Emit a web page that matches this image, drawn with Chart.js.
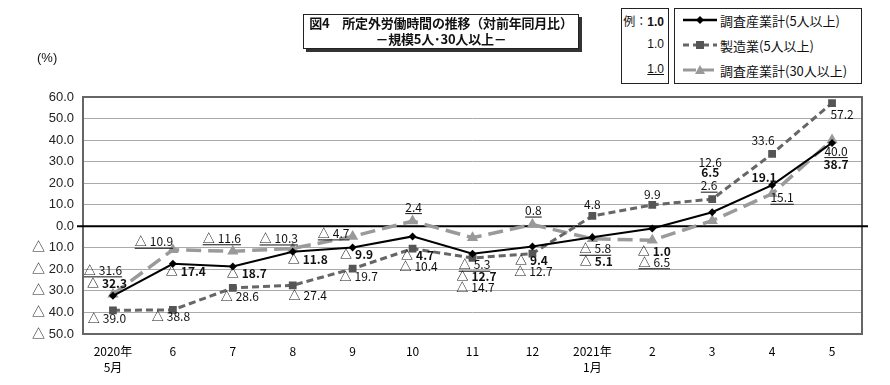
<!DOCTYPE html>
<html>
<head>
<meta charset="utf-8">
<script src="https://cdn.jsdelivr.net/npm/chart.js@4.4.1/dist/chart.umd.min.js"></script>
<style>
  body { margin: 0; background: #fff; }
  #wrap { position: relative; width: 890px; height: 385px; font-family: "Liberation Sans", "Noto Sans CJK JP", sans-serif; color: #111; }
  #c { position: absolute; left: 0; top: 0; }
  .box { position: absolute; border: 1px solid #222; background: #fff; }
  #title { left: 303px; top: 14px; width: 274px; height: 33px; box-shadow: 3px 3px 0 #333; text-align: center;
           font: bold 13px "Noto Sans CJK JP", sans-serif; line-height: 16px; white-space: nowrap; letter-spacing: -0.2px; }
  #pct { position: absolute; left: 37px; top: 50px; font-size: 13px; }
  #ex { left: 621px; top: 8px; width: 46px; height: 74px; font-size: 12px; }
  #ex div { position: absolute; right: 4px; }
  #legend { left: 674px; top: 8px; width: 186px; height: 74px; font: 13px "Noto Sans CJK JP", sans-serif; }
  #legend .row { position: absolute; left: 8px; height: 20px; display: flex; align-items: center; }
  #legend svg { margin-right: 3px; }
</style>
</head>
<body>
<div id="wrap">
  <canvas id="c" width="890" height="385"></canvas>
  <div id="title" class="box">図4　所定外労働時間の推移（対前年同月比）<br>－規模5人･30人以上－</div>
  <div id="pct">(%)</div>
  <div id="ex" class="box">
    <div style="top:3px">例：<b>1.0</b></div>
    <div style="top:28px">1.0</div>
    <div style="top:53px;text-decoration:underline">1.0</div>
  </div>
  <div id="legend" class="box">
    <div class="row" style="top:1px">
      <svg width="34" height="12"><line x1="0" y1="6" x2="34" y2="6" stroke="#000" stroke-width="2.5"/><polygon points="17,2 21,6 17,10 13,6" fill="#000"/></svg>調査産業計(5人以上)
    </div>
    <div class="row" style="top:26px">
      <svg width="34" height="12"><line x1="0" y1="6" x2="34" y2="6" stroke="#666" stroke-width="3" stroke-dasharray="6,4"/><rect x="13" y="2" width="8" height="8" fill="#555"/></svg>製造業(5人以上)
    </div>
    <div class="row" style="top:51px">
      <svg width="34" height="12"><line x1="0" y1="6" x2="34" y2="6" stroke="#999" stroke-width="3" stroke-dasharray="13,5"/><polygon points="17,1 22,10 12,10" fill="#999"/></svg>調査産業計(30人以上)
    </div>
  </div>
</div>
<script>
// 所定外労働時間 対前年同月比 (%)
const months = [['2020年', '5月'], '6', '7', '8', '9', '10', '11', '12', ['2021年', '1月'], '2', '3', '4', '5'];
const total5 = [-32.3, -17.4, -18.7, -11.8, -9.9, -4.7, -12.7, -9.4, -5.1, -1.0, 6.5, 19.1, 38.7];
const manuf5 = [-39.0, -38.8, -28.6, -27.4, -19.7, -10.4, -14.7, -12.7, 4.8, 9.9, 12.6, 33.6, 57.2];
const total30 = [-31.6, -10.9, -11.6, -10.3, -4.7, 2.4, -5.3, 0.8, -5.8, -6.5, 2.6, 15.1, 40.0];
const seriesNames = ['調査産業計(5人以上)', '製造業(5人以上)', '調査産業計(30人以上)'];

// where each value label sits relative to its point (px)
const labelOffsets = [
  [[-6, -12], [13, 8], [14, 7], [15, 8], [4, 7], [5, 19], [4, 23], [-1, 14], [4, 24], [2, 23], [-2, -40], [-8, -8], [4, 22]],
  [[-6, 8], [-2, 7], [7, 9], [15, 10], [6, 8], [6, 18], [3, 29], [1, 18], [0, -11], [0, -11], [-2, -37], [-9, -13], [10, 11]],
  [[-10, -24], [-19, -8], [-11, -13], [-14, -10], [-19, -3], [1, -14], [2, 27], [1, -14], [3, 10], [2, 22], [-3, -35], [10, 4], [4, 11]]
];
const narrow = '"Liberation Sans Narrow", "Noto Sans CJK JP", sans-serif';
const labelStyles = [
  { weight: 'bold', underline: false },
  { weight: 'normal', underline: false },
  { weight: 'normal', underline: true }
];

function fmt(v) {
  return v < 0 ? '△ ' + Math.abs(v).toFixed(1) : v.toFixed(1);
}

const frame = {
  id: 'frame',
  beforeDatasetsDraw(chart) {
    const { ctx, chartArea: a } = chart;
    const y0 = chart.scales.y.getPixelForValue(0);
    ctx.save();
    ctx.strokeStyle = '#666';
    ctx.lineWidth = 2;
    ctx.strokeRect(a.left, a.top, a.right - a.left, a.bottom - a.top);
    ctx.strokeStyle = '#000';
    ctx.beginPath();
    ctx.moveTo(a.left - 6, y0);
    ctx.lineTo(a.right + 6, y0);
    ctx.stroke();
    ctx.restore();
  }
};

// value labels: triangle in CJK font, number in narrow font
const valueLabels = {
  id: 'valueLabels',
  afterDatasetsDraw(chart) {
    const ctx = chart.ctx;
    chart.data.datasets.forEach((ds, i) => {
      const st = labelStyles[i];
      const triFont = st.weight + ' 12px "Noto Sans CJK JP", sans-serif';
      const numFont = st.weight + ' 12px ' + narrow;
      chart.getDatasetMeta(i).data.forEach((pt, j) => {
        const v = ds.data[j];
        const num = Math.abs(v).toFixed(1);
        const cx = pt.x + labelOffsets[i][j][0];
        const cy = pt.y + labelOffsets[i][j][1];
        ctx.save();
        ctx.fillStyle = '#111';
        ctx.textAlign = 'left';
        ctx.textBaseline = 'middle';
        ctx.font = triFont;
        const tw = v < 0 ? ctx.measureText('△').width + 3 : 0;
        ctx.font = numFont;
        const nw = ctx.measureText(num).width;
        const x0 = cx - (tw + nw) / 2;
        if (v < 0) {
          ctx.font = triFont;
          ctx.fillText('△', x0, cy);
        }
        ctx.font = numFont;
        ctx.fillText(num, x0 + tw, cy);
        if (st.underline) ctx.fillRect(x0, cy + 6, tw + nw, 1);
        ctx.restore();
      });
    });
  }
};

new Chart(document.getElementById('c'), {
  type: 'line',
  data: {
    labels: months,
    datasets: [{
      label: seriesNames[0],
      data: total5,
      borderColor: '#000',
      borderWidth: 2,
      pointStyle: 'rectRot',
      pointRadius: 4,
      pointBackgroundColor: '#000',
      pointBorderWidth: 0
    }, {
      label: seriesNames[1],
      data: manuf5,
      borderColor: '#666',
      borderWidth: 3,
      borderDash: [7, 4],
      pointStyle: 'rect',
      pointRadius: 5.5,
      pointBackgroundColor: '#555',
      pointBorderWidth: 0
    }, {
      label: seriesNames[2],
      data: total30,
      borderColor: '#9a9a9a',
      borderWidth: 3.5,
      borderDash: [15, 7],
      pointStyle: 'triangle',
      pointRadius: 6.5,
      pointBackgroundColor: '#999',
      pointBorderWidth: 0
    }]
  },
  options: {
    responsive: false,
    animation: false,
    devicePixelRatio: 1,
    layout: { padding: { top: 97, right: 28, left: 0, bottom: 0 } },
    plugins: { legend: { display: false }, tooltip: { enabled: false } },
    scales: {
      x: {
        offset: true,
        grid: { display: false, drawTicks: false },
        border: { display: false },
        ticks: { color: '#000', padding: 9, maxRotation: 0, autoSkip: false, font: { family: narrow, size: 12, lineHeight: 1.33 } },
        afterFit(s) { s.height = 51; }
      },
      y: {
        min: -50,
        max: 60,
        ticks: { stepSize: 10, color: '#222', padding: 9, font: { family: '"Liberation Sans", "Noto Sans CJK JP", sans-serif', size: 13 }, callback: v => fmt(v) },
        grid: { color: '#aaa', lineWidth: 1, drawTicks: false },
        border: { display: false },
        afterFit(s) { s.width = 83; }
      }
    }
  },
  plugins: [frame, valueLabels]
});
</script>
</body>
</html>
